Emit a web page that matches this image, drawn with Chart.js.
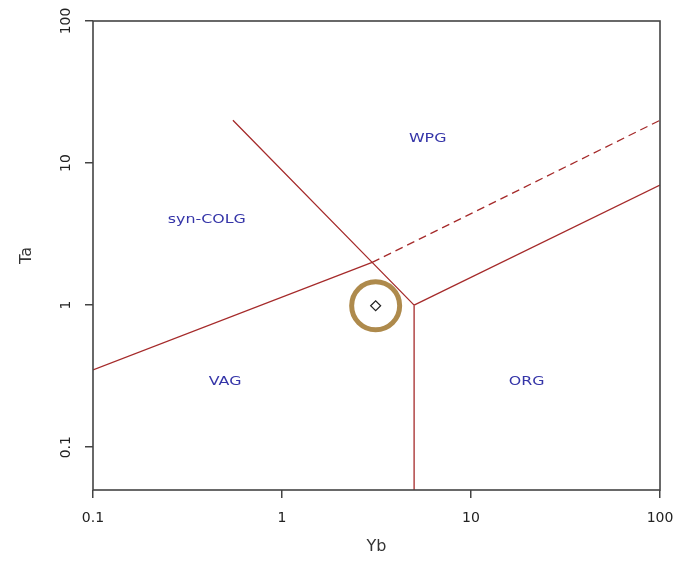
<!DOCTYPE html>
<html>
<head>
<meta charset="utf-8">
<script src="https://cdn.jsdelivr.net/npm/chart.js@4.4.1/dist/chart.umd.min.js"></script>
<style>
  html, body { margin: 0; padding: 0; background: #fff; }
  #wrap { width: 681px; height: 564px; }
</style>
</head>
<body>
<div id="wrap"><canvas id="myChart" width="681" height="564"></canvas></div>
<script>
// axis ticks
const xTicks = [0.1, 1, 10, 100];
const yTicks = [0.1, 1, 10, 100];

// sample (Yb, Ta)
const sampleYb = [3.13];
const sampleTa = [0.99];

// field boundaries (Pearce 1984)
const vagColgYb = [0.1, 3];
const vagColgTa = [0.35, 2];
const colgWpgYb = [0.55, 3, 5];
const colgWpgTa = [20, 2, 1];
const vagOrgYb = [5, 5];
const vagOrgTa = [0.05, 1];
const orgWpgYb = [5, 100];
const orgWpgTa = [1, 7];
const dashYb = [3, 100];
const dashTa = [2, 20];

// field names
const fieldNames = ['WPG', 'syn-COLG', 'VAG', 'ORG'];
const fieldYb = [5.9, 0.40, 0.50, 19.7];
const fieldTa = [14.8, 4.0, 0.29, 0.29];

const lineColor = '#A52A2A';
const axisColor = '#444444';

function pts(xs, ys) {
	return xs.map((x, i) => ({x: x, y: ys[i]}));
}

function boundary(xs, ys, dash) {
	return {
		type: 'line',
		data: pts(xs, ys),
		borderColor: lineColor,
		borderWidth: 1.3,
		borderDash: dash || [],
		pointRadius: 0,
		fill: false,
		tension: 0,
		order: 3
	};
}

// frame + field labels
const decor = {
	id: 'decor',
	afterDatasetsDraw(chart) {
		const {ctx, chartArea: a, scales} = chart;
		ctx.save();
		ctx.strokeStyle = axisColor;
		ctx.lineWidth = 1.6;
		ctx.strokeRect(a.left, a.top, a.right - a.left, a.bottom - a.top);

		ctx.fillStyle = '#3535a8';
		ctx.font = '13px "DejaVu Sans"';
		ctx.textAlign = 'center';
		ctx.textBaseline = 'middle';
		fieldNames.forEach((name, i) => {
			const px = scales.x.getPixelForValue(fieldYb[i]);
			const py = scales.y.getPixelForValue(fieldTa[i]);
			ctx.save();
			ctx.translate(px, py);
			ctx.scale(1.22, 1);
			ctx.fillText(name, 0, 0);
			ctx.restore();
		});
		ctx.restore();
	}
};

const tickFont = {family: 'DejaVu Sans', size: 14};

new Chart(document.getElementById('myChart'), {
	type: 'scatter',
	data: {
		datasets: [
			boundary(vagColgYb, vagColgTa),
			boundary(colgWpgYb, colgWpgTa),
			boundary(vagOrgYb, vagOrgTa),
			boundary(orgWpgYb, orgWpgTa),
			boundary(dashYb, dashTa, [8, 5]),
			{
				data: pts(sampleYb, sampleTa),
				pointStyle: 'rectRot',
				pointRadius: 5,
				borderWidth: 1.2,
				borderColor: '#222222',
				backgroundColor: '#ffffff',
				order: 2
			},
			{
				data: pts(sampleYb, sampleTa),
				pointStyle: 'circle',
				pointRadius: 24,
				borderWidth: 5,
				borderColor: '#AE8A4C',
				backgroundColor: 'rgba(0,0,0,0)',
				order: 1
			}
		]
	},
	options: {
		responsive: false,
		animation: false,
		layout: {autoPadding: false, padding: {top: 21, right: 21, left: 0, bottom: 0}},
		plugins: {
			legend: {display: false},
			tooltip: {enabled: false}
		},
		scales: {
			x: {
				type: 'logarithmic',
				min: 0.1,
				max: 100,
				afterBuildTicks: s => { s.ticks = xTicks.map(v => ({value: v})); },
				afterFit: s => { s.height = 74; s.paddingLeft = 0; s.paddingRight = 0; },
				border: {display: false},
				grid: {drawOnChartArea: false, drawTicks: true, tickLength: 8, color: axisColor, lineWidth: 1.5},
				ticks: {
					color: '#222',
					font: tickFont,
					padding: 12,
					maxRotation: 0,
					callback: v => String(v)
				},
				title: {display: true, text: 'Yb', color: '#333', font: {family: 'DejaVu Sans', size: 16}, padding: {top: 0, bottom: 8}}
			},
			y: {
				type: 'logarithmic',
				min: 0.05,
				max: 100,
				afterBuildTicks: s => { s.ticks = yTicks.map(v => ({value: v})); },
				afterFit: s => { s.width = 93; s.paddingTop = 0; s.paddingBottom = 0; },
				border: {display: false},
				grid: {drawOnChartArea: false, drawTicks: true, tickLength: 8, color: axisColor, lineWidth: 1.5},
				ticks: {
					color: '#222',
					font: tickFont,
					padding: 5,
					minRotation: 90,
					maxRotation: 90,
					crossAlign: 'center',
					callback: v => String(v)
				},
				title: {display: true, text: 'Ta', color: '#333', font: {family: 'DejaVu Sans', size: 16}, padding: {top: 17, bottom: 0}}
			}
		}
	},
	plugins: [decor]
});
</script>
</body>
</html>
